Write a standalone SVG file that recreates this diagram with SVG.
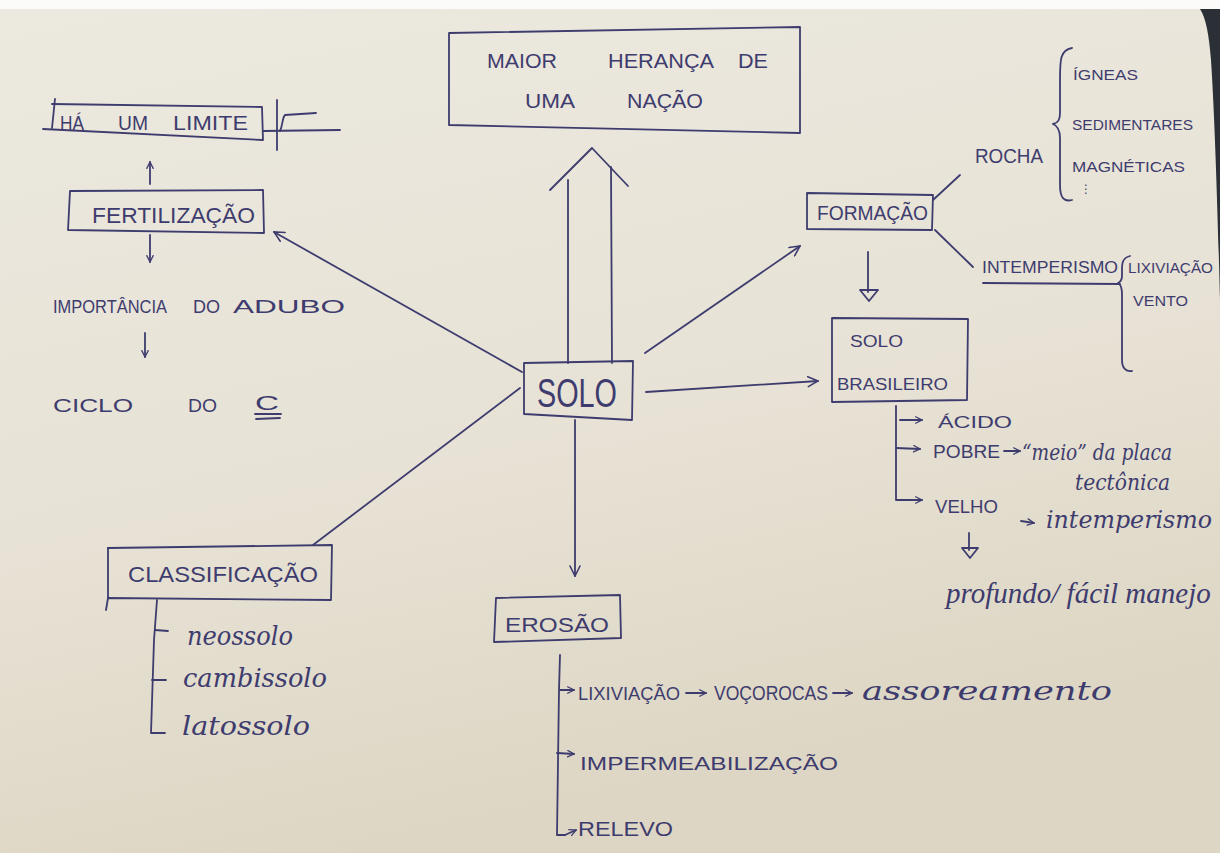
<svg xmlns="http://www.w3.org/2000/svg" width="1220" height="853" viewBox="0 0 1220 853">
<style>
.ink{fill:none;stroke:#3e3c6e;stroke-width:1.8;stroke-linecap:round;stroke-linejoin:round}
.t{font-family:"Liberation Sans","DejaVu Sans",sans-serif;fill:#3e3c6e}
.c{font-family:"DejaVu Serif","Liberation Serif",serif;font-style:italic;fill:#3e3c6e}
.cn{font-family:"Liberation Serif","DejaVu Serif",serif;font-style:italic;fill:#3e3c6e}
</style>
<defs>
<linearGradient id="paper" x1="0" y1="0" x2="0.3" y2="1">
<stop offset="0" stop-color="#ece9e0"/>
<stop offset="0.6" stop-color="#e7e2d5"/>
<stop offset="1" stop-color="#ddd6c4"/>
</linearGradient>
<marker id="v" viewBox="0 0 12 12" refX="11" refY="6" markerWidth="12" markerHeight="12" markerUnits="userSpaceOnUse" orient="auto">
<path d="M1,1 L11,6 L1,11" fill="none" stroke="#3e3c6e" stroke-width="1.6" stroke-linecap="round"/>
</marker>
<marker id="vs" viewBox="0 0 10 10" refX="9" refY="5" markerWidth="8" markerHeight="8" markerUnits="userSpaceOnUse" orient="auto">
<path d="M1,1 L9,5 L1,9" fill="none" stroke="#3e3c6e" stroke-width="1.6" stroke-linecap="round"/>
</marker>
</defs>
<rect x="0" y="0" width="1220" height="853" fill="url(#paper)"/>
<rect x="0" y="0" width="1220" height="9" fill="#fbfbfa"/>
<path d="M1200,9 L1220,9 L1220,300 C1218,220 1215,120 1211,60 C1209,35 1206,18 1200,9 Z" fill="#2b2f36"/>

<g id="connectors">
<path class="ink" d="M568,363 L568,180"/>
<path class="ink" d="M612,363 L611,167"/>
<path class="ink" d="M550,190 L592,148 L628,186"/>
<path class="ink" d="M522,372 L274,232" marker-end="url(#v)"/>
<path class="ink" d="M645,353 L800,246" marker-end="url(#v)"/>
<path class="ink" d="M646,392 L818,381" marker-end="url(#v)"/>
<path class="ink" d="M520,388 L313,545"/>
<path class="ink" d="M575,420 L575,576" marker-end="url(#v)"/>
<path class="ink" d="M150,184 L150,162" marker-end="url(#vs)"/>
<path class="ink" d="M150,235 L150,262" marker-end="url(#vs)"/>
<path class="ink" d="M145,333 L145,357" marker-end="url(#vs)"/>
<path class="ink" d="M277,100 L277,150"/>
<path class="ink" d="M263,131 L340,130"/>
<path class="ink" d="M280,131 C283,125 282,118 285,115 L316,113"/>
<path class="ink" d="M933,200 L960,175"/>
<path class="ink" d="M935,230 L973,267"/>
<path class="ink" d="M868,252 L868,292"/>
<path class="ink" d="M860,290 L878,290 L869,301 Z"/>
<path class="ink" d="M1072,48 C1060,50 1060,60 1060,80 L1060,112 C1060,120 1058,123 1053,124 C1058,126 1060,130 1060,138 L1060,185 C1060,198 1064,202 1072,200"/>
<path class="ink" d="M1130,256 C1122,258 1122,264 1122,270 L1122,276 C1122,280 1120,282 1118,283 C1120,284 1122,288 1122,294 L1122,360 C1122,368 1126,372 1132,371"/>
<path class="ink" d="M983,283 L1120,284"/>
<path class="ink" d="M896,406 L896,500 L910,500"/>
<path class="ink" d="M900,420 L922,420" marker-end="url(#vs)"/>
<path class="ink" d="M896,448 L920,449" marker-end="url(#vs)"/>
<path class="ink" d="M910,500 L922,500" marker-end="url(#vs)"/>
<path class="ink" d="M1004,451 L1020,451" marker-end="url(#vs)"/>
<path class="ink" d="M1021,521 L1034,523" marker-end="url(#vs)"/>
<path class="ink" d="M969,533 L969,550"/>
<path class="ink" d="M962,548 L978,548 L970,558 Z"/>
<path class="ink" d="M157,600 L154,640 L151,733 L165,733"/>
<path class="ink" d="M155,630 L168,631"/>
<path class="ink" d="M152,680 L166,680"/>
<path class="ink" d="M560,655 L559,690 L557,835 L565,835"/>
<path class="ink" d="M560,690 L574,690" marker-end="url(#vs)"/>
<path class="ink" d="M557,753 L574,754" marker-end="url(#vs)"/>
<path class="ink" d="M565,835 L576,830" marker-end="url(#vs)"/>
<path class="ink" d="M686,693 L706,693" marker-end="url(#vs)"/>
<path class="ink" d="M833,693 L852,693" marker-end="url(#vs)"/>
</g>

<g id="maior-heranca">
<path class="ink" d="M449,33 L800,27 L800,133 L449,125 Z"/>
<text class="t" x="487" y="68" font-size="21" textLength="70" lengthAdjust="spacingAndGlyphs">MAIOR</text>
<text class="t" x="608" y="68" font-size="21" textLength="106" lengthAdjust="spacingAndGlyphs">HERANÇA</text>
<text class="t" x="738" y="68" font-size="21" textLength="30" lengthAdjust="spacingAndGlyphs">DE</text>
<text class="t" x="525" y="108" font-size="21" textLength="50" lengthAdjust="spacingAndGlyphs">UMA</text>
<text class="t" x="627" y="108" font-size="21" textLength="76" lengthAdjust="spacingAndGlyphs">NAÇÃO</text>
</g>

<g id="ha-um-limite">
<path class="ink" d="M52,104 L262,107 L263,140 L43,129"/>
<path class="ink" d="M55,99 L52,128"/>
<text class="t" x="60" y="130" font-size="20" textLength="24" lengthAdjust="spacingAndGlyphs">HÁ</text>
<text class="t" x="118" y="130" font-size="20" textLength="30" lengthAdjust="spacingAndGlyphs">UM</text>
<text class="t" x="173" y="130" font-size="20" textLength="75" lengthAdjust="spacingAndGlyphs">LIMITE</text>
</g>

<g id="fertilizacao">
<path class="ink" d="M70,191 L263,190 L264,233 L68,230 Z"/>
<text class="t" x="92" y="223" font-size="22" textLength="163" lengthAdjust="spacingAndGlyphs">FERTILIZAÇÃO</text>
</g>

<g id="importancia-adubo">
<text class="t" x="53" y="313" font-size="18" textLength="114" lengthAdjust="spacingAndGlyphs">IMPORTÂNCIA</text>
<text class="t" x="193" y="313" font-size="18" textLength="27" lengthAdjust="spacingAndGlyphs">DO</text>
<text class="t" x="233" y="313" font-size="18" textLength="112" lengthAdjust="spacingAndGlyphs">ADUBO</text>
</g>

<g id="ciclo-do-c">
<text class="t" x="53" y="412" font-size="18" textLength="80" lengthAdjust="spacingAndGlyphs">CICLO</text>
<text class="t" x="188" y="412" font-size="18" textLength="29" lengthAdjust="spacingAndGlyphs">DO</text>
<text class="t" x="255" y="410" font-size="20" textLength="24" lengthAdjust="spacingAndGlyphs">C</text>
<path class="ink" d="M255,414 L281,414 M256,419 L280,418"/>
</g>

<g id="solo">
<path class="ink" d="M524,363 L633,361 L632,420 L524,414 Z"/>
<text class="t" x="537" y="407" font-size="40" textLength="80" lengthAdjust="spacingAndGlyphs">SOLO</text>
</g>

<g id="formacao">
<path class="ink" d="M807,193 L933,195 L932,230 L807,229 Z"/>
<text class="t" x="817" y="220" font-size="20" textLength="111" lengthAdjust="spacingAndGlyphs">FORMAÇÃO</text>
</g>

<g id="rocha">
<text class="t" x="975" y="163" font-size="20" textLength="68" lengthAdjust="spacingAndGlyphs">ROCHA</text>
<text class="t" x="1073" y="80" font-size="15" textLength="65" lengthAdjust="spacingAndGlyphs">ÍGNEAS</text>
<text class="t" x="1072" y="130" font-size="15" textLength="121" lengthAdjust="spacingAndGlyphs">SEDIMENTARES</text>
<text class="t" x="1072" y="172" font-size="15" textLength="113" lengthAdjust="spacingAndGlyphs">MAGNÉTICAS</text>
<text class="t" x="1080" y="193" font-size="12">⋮</text>
</g>

<g id="intemperismo">
<text class="t" x="982" y="273" font-size="16" textLength="136" lengthAdjust="spacingAndGlyphs">INTEMPERISMO</text>
<text class="t" x="1128" y="273" font-size="14" textLength="85" lengthAdjust="spacingAndGlyphs">LIXIVIAÇÃO</text>
<text class="t" x="1133" y="306" font-size="14" textLength="55" lengthAdjust="spacingAndGlyphs">VENTO</text>
</g>

<g id="solo-brasileiro">
<path class="ink" d="M832,318 L968,319 L967,400 L832,402 Z"/>
<text class="t" x="850" y="347" font-size="16" textLength="53" lengthAdjust="spacingAndGlyphs">SOLO</text>
<text class="t" x="837" y="390" font-size="16" textLength="111" lengthAdjust="spacingAndGlyphs">BRASILEIRO</text>
<text class="t" x="938" y="428" font-size="16" textLength="74" lengthAdjust="spacingAndGlyphs">ÁCIDO</text>
<text class="t" x="933" y="458" font-size="18" textLength="67" lengthAdjust="spacingAndGlyphs">POBRE</text>
<text class="c" x="1022" y="460" font-size="22" textLength="150" lengthAdjust="spacingAndGlyphs">“meio” da placa</text>
<text class="c" x="1075" y="490" font-size="22" textLength="95" lengthAdjust="spacingAndGlyphs">tectônica</text>
<text class="t" x="935" y="513" font-size="18" textLength="63" lengthAdjust="spacingAndGlyphs">VELHO</text>
<text class="c" x="1046" y="528" font-size="24" textLength="166" lengthAdjust="spacingAndGlyphs">intemperismo</text>
<text class="cn" x="946" y="603" font-size="29">profundo/ fácil manejo</text>
</g>

<g id="classificacao">
<path class="ink" d="M108,548 L332,545 L331,600 L108,598 L106,610"/>
<path class="ink" d="M108,548 L108,598"/>
<text class="t" x="128" y="582" font-size="22" textLength="190" lengthAdjust="spacingAndGlyphs">CLASSIFICAÇÃO</text>
<text class="c" x="187" y="645" font-size="26" textLength="106" lengthAdjust="spacingAndGlyphs">neossolo</text>
<text class="c" x="183" y="687" font-size="26" textLength="144" lengthAdjust="spacingAndGlyphs">cambissolo</text>
<text class="c" x="182" y="735" font-size="26" textLength="128" lengthAdjust="spacingAndGlyphs">latossolo</text>
</g>

<g id="erosao">
<path class="ink" d="M496,598 L620,595 L621,638 L494,642 Z"/>
<text class="t" x="505" y="632" font-size="20" textLength="104" lengthAdjust="spacingAndGlyphs">EROSÃO</text>
<text class="t" x="578" y="700" font-size="18" textLength="102" lengthAdjust="spacingAndGlyphs">LIXIVIAÇÃO</text>
<text class="t" x="714" y="700" font-size="20" textLength="114" lengthAdjust="spacingAndGlyphs">VOÇOROCAS</text>
<text class="c" x="862" y="700" font-size="26" textLength="250" lengthAdjust="spacingAndGlyphs">assoreamento</text>
<text class="t" x="580" y="770" font-size="18" textLength="258" lengthAdjust="spacingAndGlyphs">IMPERMEABILIZAÇÃO</text>
<text class="t" x="578" y="836" font-size="20" textLength="95" lengthAdjust="spacingAndGlyphs">RELEVO</text>
</g>
</svg>
